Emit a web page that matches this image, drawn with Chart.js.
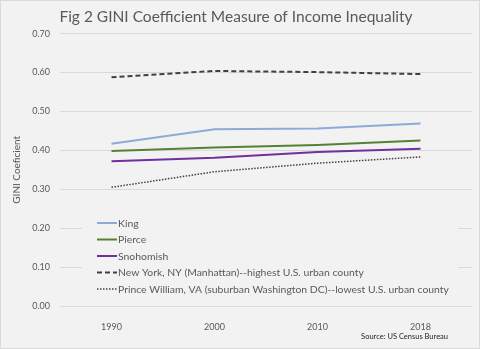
<!DOCTYPE html>
<html>
<head>
<meta charset="utf-8">
<script src="https://cdn.jsdelivr.net/npm/chart.js@4/dist/chart.umd.min.js"></script>
<style>
  html, body { margin: 0; padding: 0; background: #f2f2f2; }
  #wrap { width: 480px; height: 349px; position: relative; }
</style>
</head>
<body>
<div id="wrap"><canvas id="myChart" width="480" height="349"></canvas></div>
<script>
var years = ['1990', '2000', '2010', '2018']
var king = [0.417, 0.454, 0.456, 0.469]
var pierce = [0.398, 0.407, 0.414, 0.425]
var snohomish = [0.372, 0.381, 0.396, 0.404]
var newYork = [0.588, 0.604, 0.601, 0.596]
var princeWilliam = [0.305, 0.345, 0.367, 0.383]
var yTicks = [0, 0.1, 0.2, 0.3, 0.4, 0.5, 0.6, 0.7]

var FONT = 'Lato, "Open Sans", sans-serif'
var GREY = '#595959'

// legend sits inside the plot, over the lower gridlines
var insideLegend = {
  id: 'insideLegend',
  beforeDatasetsDraw: function (chart) {
    var c = chart.ctx
    c.save()
    c.fillStyle = '#f2f2f2'
    c.fillRect(82, 214, 376, 84)
    c.restore()
  },
  afterDraw: function (chart) {
    var c = chart.ctx
    c.save()
    var y0 = 223
    chart.data.datasets.forEach(function (ds, i) {
      var y = y0 + i * 16.5
      c.beginPath()
      c.strokeStyle = ds.borderColor
      c.lineWidth = ds.borderWidth
      c.setLineDash(ds.borderDash || [])
      c.moveTo(97, y)
      c.lineTo(117, y)
      c.stroke()
      c.setLineDash([])
      c.fillStyle = GREY
      c.font = '10.4px ' + FONT
      c.textBaseline = 'middle'
      c.fillText(ds.label, 118, y + 0.5)
    })
    // source note
    c.fillStyle = '#262626'
    c.font = '7.5px ' + FONT
    c.textAlign = 'right'
    c.fillText('Source: US Census Bureau', 448, 337)
    // outer frame
    c.strokeStyle = '#d9d9d9'
    c.lineWidth = 1
    c.strokeRect(0.5, 0.5, 479, 348)
    c.restore()
  }
}

var ctx = document.getElementById('myChart').getContext('2d')

var myChart = new Chart(ctx, {
  type: 'line',
  data: {
    labels: years,
    datasets: [
      { label: 'King', data: king, borderColor: '#8eaadb', borderWidth: 2 },
      { label: 'Pierce', data: pierce, borderColor: '#548235', borderWidth: 2 },
      { label: 'Snohomish', data: snohomish, borderColor: '#7030a0', borderWidth: 2 },
      {
        label: 'New York, NY (Manhattan)--highest U.S. urban county',
        data: newYork, borderColor: '#404040', borderWidth: 2, borderDash: [5, 3]
      },
      {
        label: 'Prince William, VA (suburban Washington DC)--lowest U.S. urban county',
        data: princeWilliam, borderColor: '#404040', borderWidth: 1.5, borderDash: [1.5, 1.5]
      }
    ]
  },
  options: {
    responsive: false,
    animation: { duration: 0 },
    elements: { point: { radius: 0 }, line: { tension: 0 } },
    layout: { padding: { left: 0, right: 8, top: 0, bottom: 0 } },
    plugins: {
      legend: { display: false },
      tooltip: { enabled: false },
      title: {
        display: true,
        text: 'Fig 2 GINI Coefficient Measure of Income Inequality',
        color: GREY,
        font: { family: FONT, size: 15.5, weight: 'normal' },
        padding: { top: 8, bottom: 7 }
      }
    },
    scales: {
      x: {
        offset: true,
        grid: { display: false },
        border: { display: false },
        ticks: { color: GREY, font: { family: FONT, size: 9 }, padding: 8 },
        afterFit: function (s) { s.height = 43 }
      },
      y: {
        min: 0,
        max: 0.7,
        afterBuildTicks: function (s) {
          s.ticks = yTicks.map(function (v) { return { value: v } })
        },
        grid: { color: '#d9d9d9', drawTicks: false },
        border: { display: false },
        ticks: {
          color: GREY,
          font: { family: FONT, size: 9 },
          padding: 10,
          callback: function (v) { return v.toFixed(2) }
        },
        title: {
          display: true,
          text: 'GINI Coeficient',
          color: GREY,
          font: { family: FONT, size: 10 },
          padding: { top: 11, bottom: 0 }
        },
        afterFit: function (s) { s.width = 60 }
      }
    }
  },
  plugins: [insideLegend]
})
</script>
</body>
</html>
